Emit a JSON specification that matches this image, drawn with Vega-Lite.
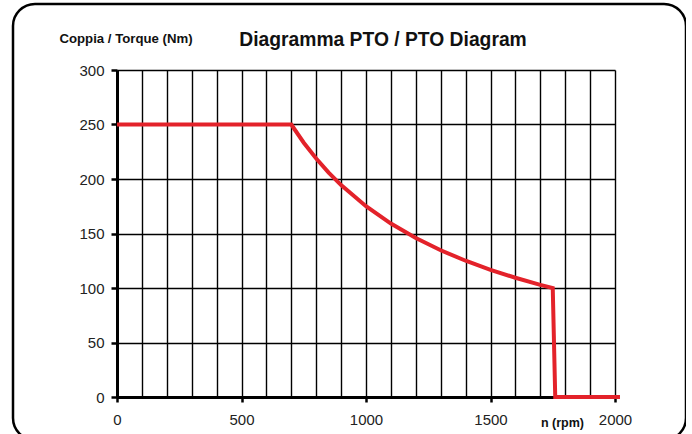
{
  "$schema": "https://vega.github.io/schema/vega-lite/v6.json",
  "width": 673,
  "height": 436,
  "autosize": {"type": "none"},
  "padding": {"left": 13, "top": 4, "right": 0, "bottom": 0},
  "background": "white",
  "config": {
    "font": "Liberation Sans",
    "view": {"stroke": "#000", "strokeWidth": 2.5, "cornerRadius": 22, "fill": "white"}
  },
  "title": {
    "text": "Diagramma PTO / PTO Diagram",
    "orient": "top",
    "anchor": "middle",
    "frame": "group",
    "baseline": "alphabetic",
    "offset": 0,
    "dx": 33.5,
    "dy": 61,
    "fontSize": 19.3,
    "fontWeight": "bold",
    "color": "#111",
    "font": "Liberation Sans"
  },
  "datasets": {
    "pto": [
      {"rpm": 0, "torque": 250},
      {"rpm": 700, "torque": 250},
      {"rpm": 750, "torque": 233.3},
      {"rpm": 800, "torque": 218.8},
      {"rpm": 850, "torque": 205.9},
      {"rpm": 900, "torque": 194.4},
      {"rpm": 1000, "torque": 175},
      {"rpm": 1100, "torque": 159.1},
      {"rpm": 1200, "torque": 145.8},
      {"rpm": 1300, "torque": 134.6},
      {"rpm": 1400, "torque": 125},
      {"rpm": 1500, "torque": 116.7},
      {"rpm": 1600, "torque": 109.4},
      {"rpm": 1700, "torque": 102.9},
      {"rpm": 1750, "torque": 100},
      {"rpm": 1760, "torque": 0},
      {"rpm": 2020, "torque": 0}
    ]
  },
  "data": {"name": "pto"},
  "resolve": {"axis": {"x": "independent"}},
  "layer": [
    {
      "mark": {"type": "line", "strokeOpacity": 0, "clip": false},
      "encoding": {
        "x": {
          "field": "rpm",
          "type": "quantitative",
          "scale": {"domain": [0, 2000], "range": [104, 602], "nice": false, "zero": false},
          "axis": {
            "orient": "top",
            "offset": 0,
            "values": [0,100,200,300,400,500,600,700,800,900,1000,1100,1200,1300,1400,1500,1600,1700,1800,1900,2000],
            "grid": true,
            "gridColor": "#000",
            "gridWidth": 1.4,
            "gridOpacity": 1,
            "domain": false,
            "ticks": false,
            "labels": false,
            "title": null
          }
        },
        "y": {
          "field": "torque",
          "type": "quantitative",
          "scale": {"domain": [0, 300], "range": [393, 66], "nice": false},
          "axis": {
            "orient": "left",
            "offset": -104,
            "values": [0, 50, 100, 150, 200, 250, 300],
            "grid": true,
            "gridColor": "#000",
            "gridWidth": 1.4,
            "gridOpacity": 1,
            "domain": true,
            "domainColor": "#000",
            "domainWidth": 3,
            "ticks": true,
            "tickSize": 6,
            "tickWidth": 2.5,
            "tickColor": "#000",
            "labelFontSize": 15,
            "labelColor": "#222",
            "labelPadding": 7,
            "labelOverlap": false,
            "title": "Coppia / Torque (Nm)",
            "titleAngle": 0,
            "titleX": 8.5,
            "titleY": 38,
            "titleAlign": "center",
            "titleBaseline": "alphabetic",
            "titleFontSize": 13.2,
            "titleFontWeight": "bold",
            "titleColor": "#111"
          }
        }
      }
    },
    {
      "mark": {"type": "line", "color": "#e3222a", "strokeWidth": 4, "strokeJoin": "miter", "clip": false},
      "encoding": {
        "x": {
          "field": "rpm",
          "type": "quantitative",
          "scale": {"domain": [0, 2000], "range": [104, 602], "nice": false, "zero": false},
          "axis": {
            "orient": "bottom",
            "offset": -43,
            "values": [0, 500, 1000, 1500, 2000],
            "format": "d",
            "grid": false,
            "domain": true,
            "domainColor": "#000",
            "domainWidth": 3,
            "ticks": true,
            "tickSize": 5,
            "tickWidth": 2.5,
            "tickColor": "#000",
            "labelFontSize": 15,
            "labelColor": "#222",
            "labelPadding": 10,
            "labelFlush": false,
            "labelOverlap": false,
            "title": "n (rpm)",
            "titleX": 549,
            "titleY": 29,
            "titleAlign": "center",
            "titleBaseline": "alphabetic",
            "titleFontSize": 12.5,
            "titleFontWeight": "bold",
            "titleColor": "#111"
          }
        },
        "y": {
          "field": "torque",
          "type": "quantitative",
          "scale": {"domain": [0, 300], "range": [393, 66], "nice": false},
          "axis": {
            "orient": "left",
            "offset": -104,
            "values": [0, 50, 100, 150, 200, 250, 300],
            "grid": true,
            "gridColor": "#000",
            "gridWidth": 1.4,
            "gridOpacity": 1,
            "domain": true,
            "domainColor": "#000",
            "domainWidth": 3,
            "ticks": true,
            "tickSize": 6,
            "tickWidth": 2.5,
            "tickColor": "#000",
            "labelFontSize": 15,
            "labelColor": "#222",
            "labelPadding": 7,
            "labelOverlap": false,
            "title": "Coppia / Torque (Nm)",
            "titleAngle": 0,
            "titleX": 8.5,
            "titleY": 38,
            "titleAlign": "center",
            "titleBaseline": "alphabetic",
            "titleFontSize": 13.2,
            "titleFontWeight": "bold",
            "titleColor": "#111"
          }
        }
      }
    }
  ]
}
